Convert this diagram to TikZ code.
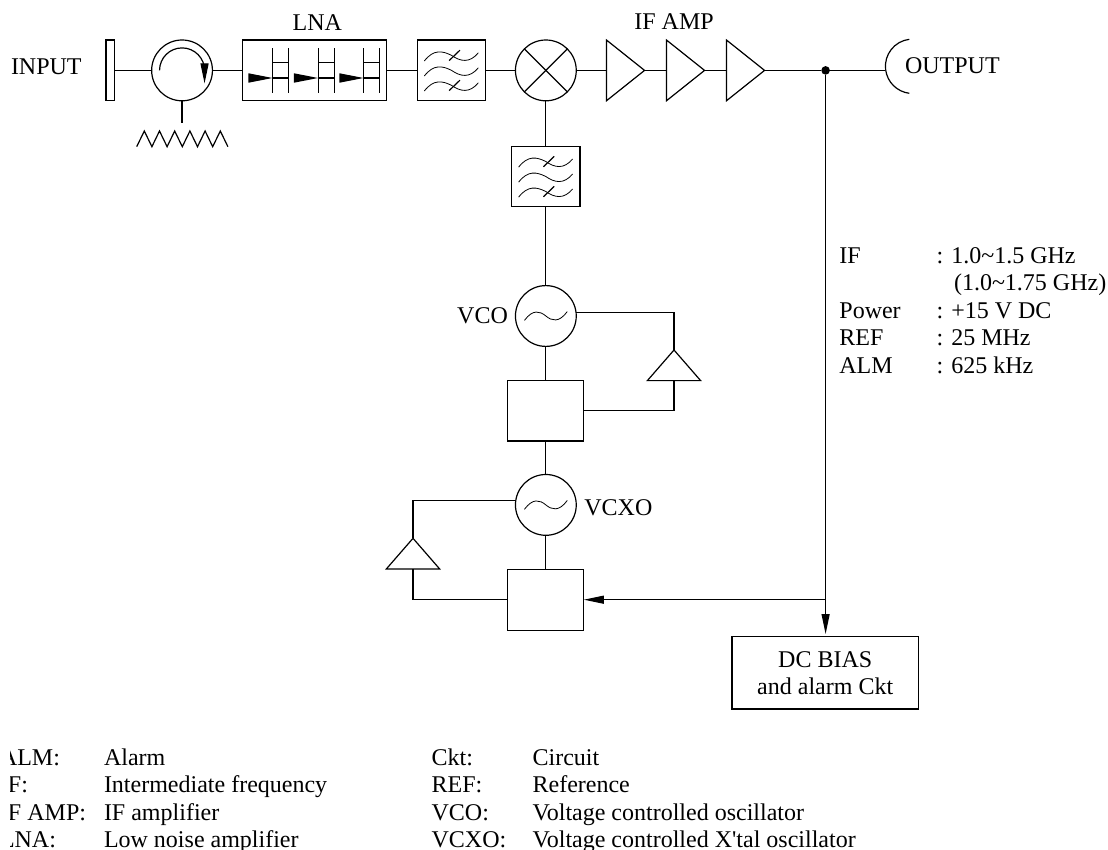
\documentclass[tikz,border=0pt]{standalone}
\usepackage{fontspec}
\setmainfont{Liberation Serif}
\usetikzlibrary{shapes.geometric, arrows.meta, calc, positioning}

\begin{document}
\begin{tikzpicture}[x=1pt, y=1pt, line width=0.6pt]
        % --- STYLES ---
        \tikzset{
            every node/.style={font=\fontsize{12}{13.5}\selectfont, inner sep=0pt, outer sep=0pt},
            block/.style={draw, rectangle, align=center},
            loopbox/.style={block, minimum width=38pt, minimum height=30.4pt},
            filterbox/.style={block, minimum width=34.2pt, minimum height=30.35pt},
            round/.style={draw, circle, minimum size=30.4pt},
            amp/.style={draw, isosceles triangle, isosceles triangle stretches, minimum width=30.3pt, minimum height=19pt},
            loopamp/.style={draw, isosceles triangle, isosceles triangle stretches, shape border rotate=90, minimum width=26.6pt, minimum height=15.3pt},
            dot/.style={fill, circle, minimum size=4.3pt},
            label/.style={anchor=base west},
            head/.style={-{Triangle[length=10pt, width=4pt]}},
            filtermark/.pic={
                \draw [line width=0.4pt] (-13.6,4.7) .. controls (-9,10.7) and (-4.5,9.8) .. (0,7.5) .. controls (4.5,4.4) and (9,3.5) .. (13.4,8.8);
                \draw [line width=0.4pt] (-13.6,-2.8) .. controls (-9,3.2) and (-4.5,2.3) .. (0,0) .. controls (4.5,-3.1) and (9,-4) .. (13.4,1.3);
                \draw [line width=0.4pt] (-13.6,-10.3) .. controls (-9,-4.3) and (-4.5,-5.2) .. (0,-7.5) .. controls (4.5,-10.6) and (9,-11.5) .. (13.4,-6.2);
                \draw (-1.2,4.9) -- (4.2,10.1);
                \draw (-1.2,-10.1) -- (4.2,-4.9);
            },
            wavemark/.pic={
                \draw [line width=0.4pt] (-10.7,-2.2) .. controls (-6.5,3.5) and (-3,2.5) .. (0,0) .. controls (3,-2.5) and (6.5,-3.5) .. (10.7,2.2);
            },
            lnastage/.pic={
                \draw [fill] (0,-3.8) -- (-10.15,-1.8) -- (-10.15,-5.8) -- cycle;
                \draw (1.7,11.1) -- (1.7,-11.1);
                \draw (9.7,11.1) -- (9.7,-11.1);
                \draw (1.7,3.8) -- (9.7,3.8);
                \draw (1.7,-3.8) -- (9.7,-3.8);
            }
        }
        \useasboundingbox (0,0) rectangle (554,-425);

        % --- TOP ROW ---
        \node [block, minimum width=4.15pt, minimum height=30.3pt] (port_in) at (55.1,-35.2) {};
        \node [round, right=18.65pt of port_in] (circulator) {};
        \node [block, right=15.15pt of circulator, minimum width=71.8pt, minimum height=30.3pt] (lna) {};
        \node [filterbox, right=15.5pt of lna] (filt_rf) {};
        \node [round, right=14.85pt of filt_rf] (mixer) {};
        \node [amp, right=15.15pt of mixer] (amp_a) {};
        \node [amp, right=11pt of amp_a] (amp_b) {};
        \node [amp, right=11pt of amp_b] (amp_c) {};
        \node [dot] (tap) at (412.8,-35.2) {};
        \coordinate (out_end) at (442.6,-35.2);
        \coordinate (out_top) at (454.65,-19.65);
        \coordinate (load_end) at (91,-61.5);
        \coordinate (zig_start) at (68.35,-73.35);

        % --- LOCAL OSCILLATOR COLUMN ---
        \node [filterbox, below=22.7pt of mixer] (filt_lo) {};
        \node [round, below=39.35pt of filt_lo] (vco) {};
        \node [loopbox, below=16.85pt of vco] (box_vco) {};
        \node [round, below=16.8pt of box_vco] (vcxo) {};
        \node [loopbox, below=17pt of vcxo] (box_vcxo) {};
        \node [loopamp, anchor=apex] (amp_vco) at (337,-175) {};
        \node [loopamp, anchor=apex] (amp_vcxo) at (206.5,-269.15) {};
        \node [block, minimum width=93.15pt, minimum height=36.15pt] (dc_bias) at (412.6,-336.4) {DC BIAS\\and alarm Ckt};

        % --- SYMBOLS ---
        \draw ([xshift=-11.25pt]circulator.center) arc[start angle=180, end angle=0, radius=11.25pt] coordinate (turn_end);
        \draw [head] (turn_end) -- ++(0,-6.5);
        \draw (mixer.45) -- (mixer.225);
        \draw (mixer.135) -- (mixer.315);
        \pic at (filt_rf) {filtermark};
        \pic at (filt_lo) {filtermark};
        \pic at (vco) {wavemark};
        \pic at (vcxo) {wavemark};
        \pic at ($(lna.west)+(13.3,0)$) {lnastage};
        \pic at ($(lna.west)+(36.05,0)$) {lnastage};
        \pic at ($(lna.west)+(58.8,0)$) {lnastage};
        \draw (out_top) arc[start angle=97, end angle=263, radius=13.6pt];
        \draw (zig_start) -- ++(3.8,7.85) -- ++(3.8,-7.85) -- ++(3.8,7.85) -- ++(3.8,-7.85) -- ++(3.8,7.85) -- ++(3.8,-7.85)
            -- ++(3.8,7.85) -- ++(3.8,-7.85) -- ++(3.8,7.85) -- ++(3.8,-7.85) -- ++(3.8,7.85) -- ++(3.8,-7.85);

        % --- CONNECTIONS ---
        \draw (port_in) -- (circulator);
        \draw (circulator) -- (lna);
        \draw (lna) -- (filt_rf);
        \draw (filt_rf) -- (mixer);
        \draw (mixer) -- (amp_a);
        \draw (amp_a.apex) -- (amp_b.lower side);
        \draw (amp_b.apex) -- (amp_c.lower side);
        \draw (amp_c.apex) -- (tap) -- (out_end);
        \draw (circulator.south) -- (circulator.south |- load_end);
        \draw (mixer) -- (filt_lo);
        \draw (filt_lo) -- (vco);
        \draw (vco) -- (box_vco);
        \draw (box_vco) -- (vcxo);
        \draw (vcxo) -- (box_vcxo);
        \draw (vco.6) -| (amp_vco.apex);
        \draw (amp_vco.lower side) |- (box_vco.east);
        \draw (vcxo.172) -| (amp_vcxo.apex);
        \draw (amp_vcxo.lower side) |- (box_vcxo.west);
        \draw [head] (tap |- box_vcxo.east) -- (box_vcxo.east);
        \draw [head, shorten >=1.3pt] (tap) -- (tap |- dc_bias.north);

        % --- LABELS ---
        \node [label] (txt_input) at (5.5,-37.2) {INPUT};
        \node [label] (txt_lna) at (146.3,-15.2) {LNA};
        \node [label] (txt_ifamp) at (317.2,-14.8) {IF AMP};
        \node [label] (txt_output) at (452.5,-37) {OUTPUT};
        \node [label] (txt_vco) at (228.6,-161.9) {VCO};
        \node [label] (txt_vcxo) at (292.2,-257.7) {VCXO};

        \node [label] (spec_if) at (419.7,-131.7) {IF};
        \node [label] (spec_if_val) at (468.3,-131.7) {: 1.0\textasciitilde 1.5 GHz};
        \node [label] (spec_alt) at (477,-145.2) {(1.0\textasciitilde 1.75 GHz)};
        \node [label] (spec_pow) at (419.7,-159) {Power};
        \node [label] (spec_pow_val) at (468.3,-159) {: +15 V DC};
        \node [label] (spec_ref) at (419.7,-172.7) {REF};
        \node [label] (spec_ref_val) at (468.3,-172.7) {: 25 MHz};
        \node [label] (spec_alm) at (419.7,-186.5) {ALM};
        \node [label] (spec_alm_val) at (468.3,-186.5) {: 625 kHz};

        % --- ABBREVIATIONS ---
        \begin{scope}
            \clip (5,-370) rectangle (52,-425);
            \node [label] (abbr_alm) at (0,-382.6) {ALM:};
            \node [label] (abbr_if) at (0,-396.4) {IF:};
            \node [label] (abbr_ifamp) at (0,-410) {IF AMP:};
            \node [label] (abbr_lna) at (0,-423.6) {LNA:};
        \end{scope}
        \node [label] (def_alm) at (52,-382.6) {Alarm};
        \node [label] (def_if) at (52,-396.4) {Intermediate frequency};
        \node [label] (def_ifamp) at (52,-410) {IF amplifier};
        \node [label] (def_lna) at (52,-423.6) {Low noise amplifier};
        \node [label] (abbr_ckt) at (215.8,-382.6) {Ckt:};
        \node [label] (abbr_ref) at (215.8,-396.4) {REF:};
        \node [label] (abbr_vco) at (215.8,-410) {VCO:};
        \node [label] (abbr_vcxo) at (215.8,-423.6) {VCXO:};
        \node [label] (def_ckt) at (266.3,-382.6) {Circuit};
        \node [label] (def_ref) at (266.3,-396.4) {Reference};
        \node [label] (def_vco) at (266.3,-410) {Voltage controlled oscillator};
        \node [label] (def_vcxo) at (266.3,-423.6) {Voltage controlled X\textquotesingle tal oscillator};
    \end{tikzpicture}
\end{document}
